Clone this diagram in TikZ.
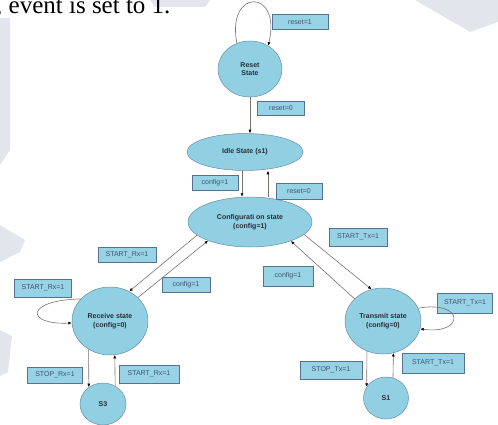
\documentclass[tikz,border=0pt]{standalone}
\usepackage{fontspec}
\setmainfont{Liberation Serif}
\setsansfont{Liberation Sans}
\usetikzlibrary{shapes.geometric,arrows.meta}
\definecolor{stfill}{RGB}{145,207,227}
\definecolor{stdraw}{RGB}{105,140,165}
\definecolor{lbfill}{RGB}{152,210,229}
\definecolor{lbdraw}{RGB}{85,115,145}
\definecolor{lbtext}{RGB}{60,85,115}
\definecolor{sttext}{RGB}{40,45,55}
\definecolor{lnC}{RGB}{125,112,108}
\definecolor{wmC}{RGB}{226,229,236}
\begin{document}
\begin{tikzpicture}[x=1pt,y=-1pt,
  state/.style={ellipse,draw=stdraw,fill=stfill,line width=0.5pt,inner sep=0pt,align=center,
    text=sttext,font=\sffamily\bfseries\fontsize{7}{8.5}\selectfont},
  lbl/.style={rectangle,draw=lbdraw,fill=lbfill,line width=0.5pt,inner sep=0pt,
    text=lbtext,font=\sffamily\fontsize{7}{8}\selectfont},
  arr/.style={draw=lnC,line width=0.6pt,-{Latex[length=3.5pt,width=3pt,color=black]}}]
  \useasboundingbox (0,0) rectangle (498,425);
  \clip (0,0) rectangle (498,425);
  % faint background marks
  \fill[wmC] (0,18) -- (10,18) -- (10,150) -- (0,165) -- cycle;
  \fill[wmC] (150,0) -- (210,0) -- (205,7) -- (155,7) -- cycle;
  \fill[wmC] (415,0) -- (498,0) -- (498,22) -- (470,32) -- cycle;
  \fill[wmC] (0,225) -- (25,240) -- (20,252) -- (0,262) -- cycle;
  \fill[wmC] (0,330) -- (12,336) -- (8,372) -- (0,376) -- cycle;
  \node[anchor=base west,inner sep=0pt,font=\fontsize{25}{25}\selectfont] (hdr) at (-4,14) {, event is set to 1.};
  % states
  \node[state,minimum width=64pt,minimum height=56pt] (reset) at (250,69) {Reset\\State};
  \node[state,minimum width=116pt,minimum height=37pt] (idle) at (245,152) {Idle State (s1)};
  \node[state,minimum width=124pt,minimum height=50pt] (config) at (250,222) {Configurati on state\\(config=1)};
  \node[state,minimum width=76pt,minimum height=68pt] (receive) at (110,321) {Receive state\\(config=0)};
  \node[state,minimum width=76pt,minimum height=66pt] (transmit) at (383,321) {Transmit state\\(config=0)};
  \node[state,minimum width=46pt,minimum height=42pt] (s3) at (103,404) {S3};
  \node[state,minimum width=45pt,minimum height=42pt] (s1) at (386,398) {S1};
  % labels
  \node[lbl,minimum width=56pt,minimum height=15pt] (lreseta) at (300,22) {reset=1};
  \node[lbl,minimum width=47pt,minimum height=14pt] (lresetb) at (281,108) {reset=0};
  \node[lbl,minimum width=46pt,minimum height=15pt] (lconfa) at (215,183) {config=1};
  \node[lbl,minimum width=46pt,minimum height=16pt] (lresetc) at (299,191) {reset=0};
  \node[lbl,minimum width=58pt,minimum height=15pt] (lrxa) at (127,255) {START\_Rx=1};
  \node[lbl,minimum width=48pt,minimum height=15pt] (lconfb) at (186,285) {config=1};
  \node[lbl,minimum width=58pt,minimum height=18pt] (ltxa) at (358,237) {START\_Tx=1};
  \node[lbl,minimum width=50pt,minimum height=20pt] (lconfc) at (288,276) {config=1};
  \node[lbl,minimum width=57pt,minimum height=18pt] (lrxloop) at (43,288) {START\_Rx=1};
  \node[lbl,minimum width=55pt,minimum height=16pt] (lrxstop) at (55,375) {STOP\_Rx=1};
  \node[lbl,minimum width=60pt,minimum height=18pt] (lrxb) at (149,374) {START\_Rx=1};
  \node[lbl,minimum width=55pt,minimum height=20pt] (ltxloop) at (465,303) {START\_Tx=1};
  \node[lbl,minimum width=62pt,minimum height=18pt] (ltxstop) at (331,370) {STOP\_Tx=1};
  \node[lbl,minimum width=62pt,minimum height=20pt] (ltxb) at (433,363) {START\_Tx=1};
  % transitions
  \draw[arr] (reset.117) .. controls (226,-12) and (282,-12) .. (reset.52);
  \draw[arr] (reset.south) -- (idle.north -| reset.south);
  \draw[arr] (idle.south -| 242,0) -- (config.north -| 242,0);
  \draw[arr] (config.north -| 268,0) -- (idle.south -| 268,0);
  \draw[arr] (config.194) -- (receive.57);
  \draw[arr] (receive.40) -- (config.204);
  \draw[arr] (config.347) -- (transmit.110);
  \draw[arr] (transmit.142) -- (config.335);
  \draw[arr] (receive.143) .. controls (25,300) and (25,325) .. (receive.183);
  \draw[arr] (transmit.20) .. controls (465,300) and (465,335) .. (transmit.-12);
  \draw[arr] (receive.233) -- (s3.130);
  \draw[arr] (s3.56) -- (receive.278);
  \draw[arr] (transmit.242) -- (s1.150);
  \draw[arr] (s1.71) -- (transmit.288);
\end{tikzpicture}
\end{document}
